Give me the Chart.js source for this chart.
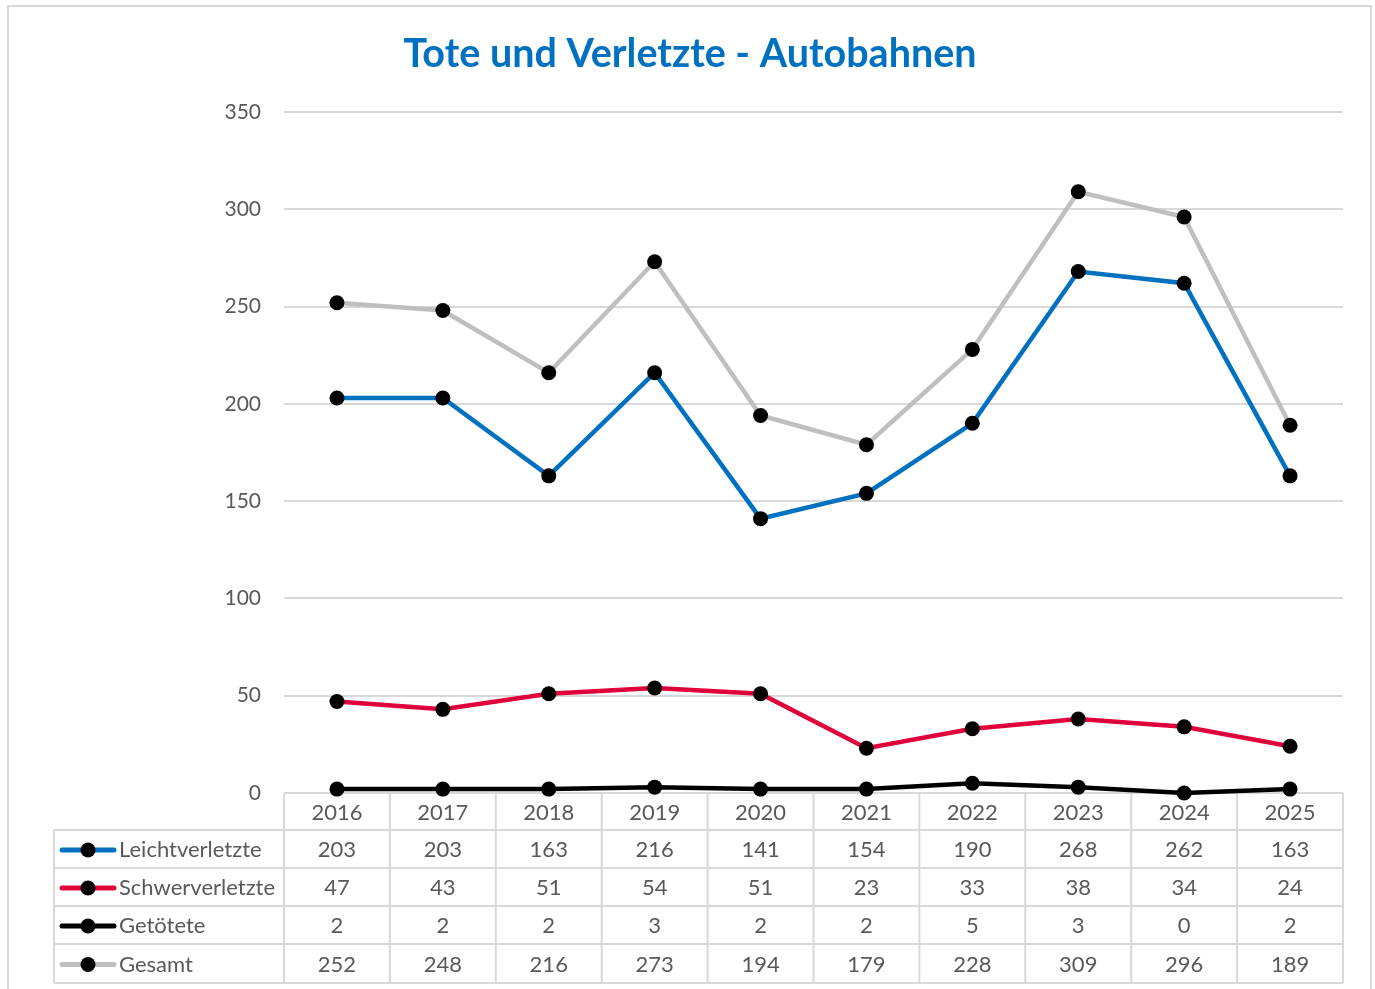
<!DOCTYPE html>
<html>
<head>
<meta charset="utf-8">
<script src="https://cdn.jsdelivr.net/npm/chart.js@4.4.1/dist/chart.umd.min.js"></script>
<style>
  html, body { margin: 0; padding: 0; background: #fff; }
  #wrap { width: 1375px; height: 989px; }
</style>
</head>
<body>
<div id="wrap"><canvas id="chart" width="1375" height="989"></canvas></div>
<script>
// data
const years = ['2016', '2017', '2018', '2019', '2020', '2021', '2022', '2023', '2024', '2025'];
const leicht = [203, 203, 163, 216, 141, 154, 190, 268, 262, 163];
const schwer = [47, 43, 51, 54, 51, 23, 33, 38, 34, 24];
const getoetet = [2, 2, 2, 3, 2, 2, 5, 3, 0, 2];
const gesamt = [252, 248, 216, 273, 194, 179, 228, 309, 296, 189];
const yTicks = [0, 50, 100, 150, 200, 250, 300, 350];

const seriesNames = ['Leichtverletzte', 'Schwerverletzte', 'Getötete', 'Gesamt'];
const seriesColors = ['#0070c0', '#e0003c', '#000000', '#bfbfbf'];
const seriesData = [leicht, schwer, getoetet, gesamt];

const FONT = 'Lato, "Open Sans", sans-serif';
const GRID = '#d9d9d9';
const TEXT = '#595959';

// frame, title and data table below the plot (drawn under the lines)
const tablePlugin = {
  id: 'tablePlugin',
  beforeDraw(chart) {
    const c = chart.ctx;
    c.save();
    c.fillStyle = '#fff';
    c.fillRect(0, 0, chart.width, chart.height);
    c.strokeStyle = '#d9d9d9';
    c.lineWidth = 2;
    c.strokeRect(8, 6, 1363, 990);
    c.restore();
  },
  beforeDatasetsDraw(chart) {
    const c = chart.ctx;
    const x = chart.scales.x;
    const area = chart.chartArea;
    const colW = (area.right - area.left) / years.length;
    const top = area.bottom;
    const rows = [top, 830, 868, 906, 944, 983];
    const leftX = 54;

    c.save();
    // title
    c.fillStyle = '#0070c0';
    c.font = 'bold 39.5px ' + FONT;
    c.textAlign = 'center';
    c.textBaseline = 'middle';
    c.fillText('Tote und Verletzte - Autobahnen', 690, 54);

    // grid lines
    c.strokeStyle = GRID;
    c.lineWidth = 2;
    c.beginPath();
    c.moveTo(area.left, rows[0]); c.lineTo(area.right, rows[0]);
    for (let r = 1; r < rows.length; r++) {
      c.moveTo(leftX, rows[r]); c.lineTo(area.right, rows[r]);
    }
    for (let i = 0; i <= years.length; i++) {
      const px = area.left + i * colW;
      c.moveTo(px, rows[0]); c.lineTo(px, rows[rows.length - 1]);
    }
    c.moveTo(leftX, rows[1]); c.lineTo(leftX, rows[rows.length - 1]);
    c.stroke();

    // header row: years
    c.font = '22px ' + FONT;
    c.fillStyle = TEXT;
    c.textAlign = 'center';
    years.forEach((y, i) => {
      c.fillText(y, x.getPixelForValue(i), (rows[0] + rows[1]) / 2 + 1);
    });

    // series rows
    seriesData.forEach((arr, s) => {
      const cy = (rows[s + 1] + rows[s + 2]) / 2 + 1;
      // legend key
      c.strokeStyle = seriesColors[s];
      c.lineWidth = 5;
      c.lineCap = 'round';
      c.beginPath();
      c.moveTo(62, cy); c.lineTo(114, cy);
      c.stroke();
      c.fillStyle = '#000';
      c.beginPath();
      c.arc(88, cy, 7.5, 0, Math.PI * 2);
      c.fill();
      c.fillStyle = TEXT;
      c.textAlign = 'left';
      c.fillText(seriesNames[s], 119, cy);
      c.textAlign = 'center';
      arr.forEach((v, i) => {
        c.fillText(String(v), x.getPixelForValue(i), cy);
      });
    });
    c.restore();
  }
};

const datasets = seriesData.map((arr, s) => ({
  label: seriesNames[s],
  data: arr,
  borderColor: seriesColors[s],
  backgroundColor: '#000',
  borderWidth: 4.5,
  pointRadius: 7.5,
  pointHoverRadius: 7.5,
  pointBackgroundColor: '#000',
  pointBorderColor: '#000',
  pointBorderWidth: 0,
  tension: 0,
  clip: false,
  order: seriesData.length - s
}));

new Chart(document.getElementById('chart').getContext('2d'), {
  type: 'line',
  data: { labels: years, datasets: datasets },
  options: {
    responsive: false,
    animation: false,
    devicePixelRatio: 1,
    layout: { padding: { top: 112, bottom: 196, left: 0, right: 32 } },
    plugins: {
      legend: { display: false },
      title: { display: false },
      tooltip: { enabled: false }
    },
    scales: {
      x: {
        type: 'category',
        offset: true,
        display: false
      },
      y: {
        min: 0,
        max: 350,
        afterBuildTicks(axis) { axis.ticks = yTicks.map(v => ({ value: v })); },
        afterFit(axis) { axis.width = 284; },
        border: { display: false },
        grid: { color: GRID, lineWidth: 2, drawTicks: false },
        ticks: {
          color: TEXT,
          padding: 23,
          font: { family: FONT, size: 21 }
        }
      }
    }
  },
  plugins: [tablePlugin]
});
</script>
</body>
</html>
